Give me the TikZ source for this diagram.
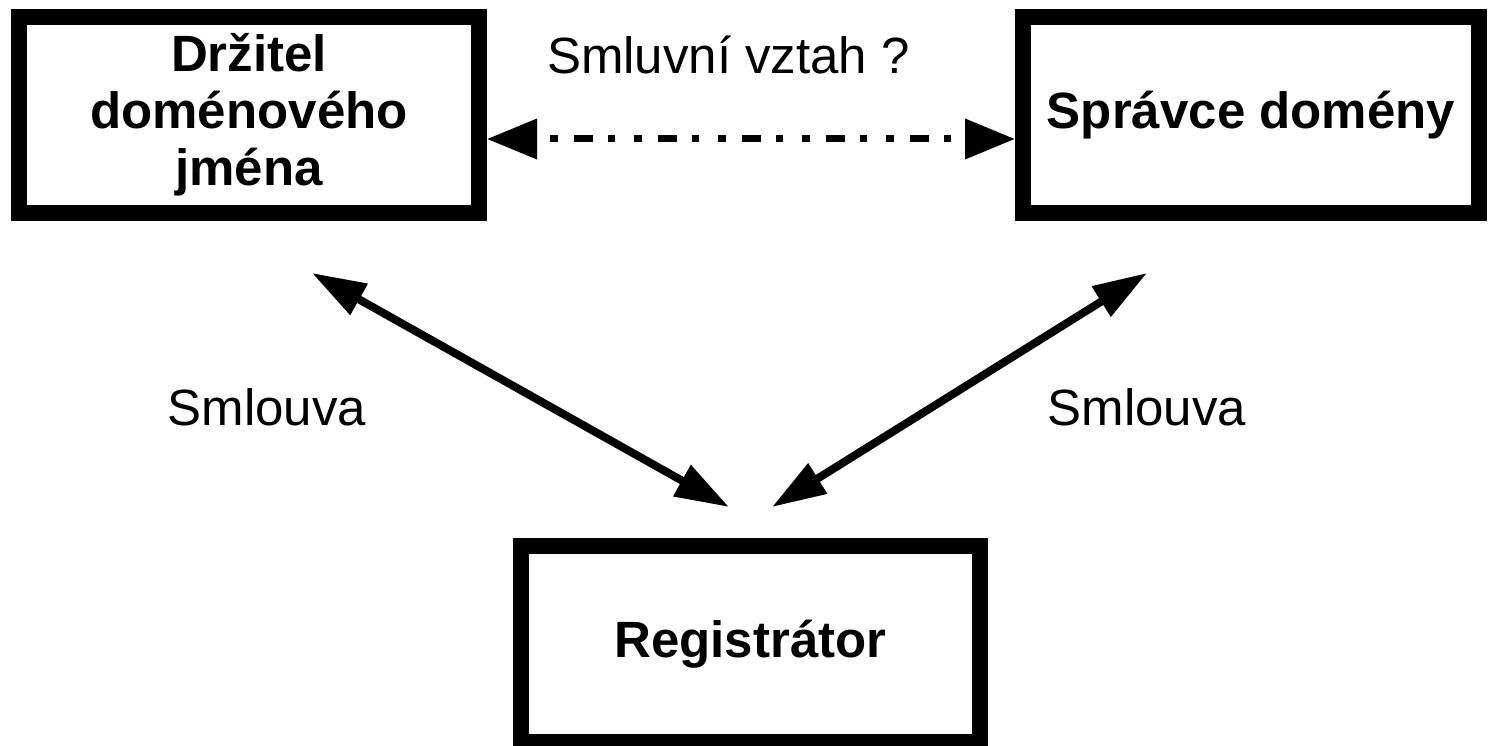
\documentclass[tikz,border=0pt]{standalone}
\usepackage{fontspec}
\setmainfont{Liberation Sans}
\usetikzlibrary{arrows.meta,calc}
\begin{document}
\begin{tikzpicture}[x=1pt,y=-1pt,
  box/.style={draw, line width=16pt, minimum width=460pt, minimum height=196pt,
    inner sep=0pt, align=center, font=\fontsize{51}{57}\selectfont\bfseries},
  lbl/.style={font=\fontsize{51}{57}\selectfont, inner sep=0pt, anchor=base},
  rel/.style={line width=8pt, {Triangle[length=54pt,width=34pt]}-{Triangle[length=54pt,width=34pt]}},
  opt/.style={line width=7pt,
    dash pattern=on 7.4pt off 16.6pt on 18.5pt off 14.8pt on 7.4pt off 19.3pt,
    dash phase=69pt,
    {Triangle[length=50pt,width=39pt]}-{Triangle[length=50pt,width=39pt]}}]
\useasboundingbox (0,0) rectangle (1488,746);
\node[box] (d) at (249,115) {Držitel\\doménového\\jména};
\node[box, minimum width=456pt] (s) at (1251,115) {Správce domény};
\node[box, minimum width=459pt] (r) at (750.5,644) {Registrátor};
\draw[opt] ($(d.east)+(0,24)$) -- ($(s.west)+(0,24)$);
\coordinate (dl) at ($(d.south)+(63,52)$);
\coordinate (rl) at ($(r.north)+(-21.5,-31)$);
\coordinate (rr) at ($(r.north)+(21.5,-31)$);
\coordinate (sr) at ($(s.south)+(-104,52)$);
\draw[rel] (dl) -- (rl);
\draw[rel] (rr) -- (sr);
\node[lbl] (q) at (728.5,74) {Smluvní vztah ?};
\node[lbl] (s1) at (267,425) {Smlouva};
\node[lbl] (s2) at (1147,425) {Smlouva};
\end{tikzpicture}
\end{document}
